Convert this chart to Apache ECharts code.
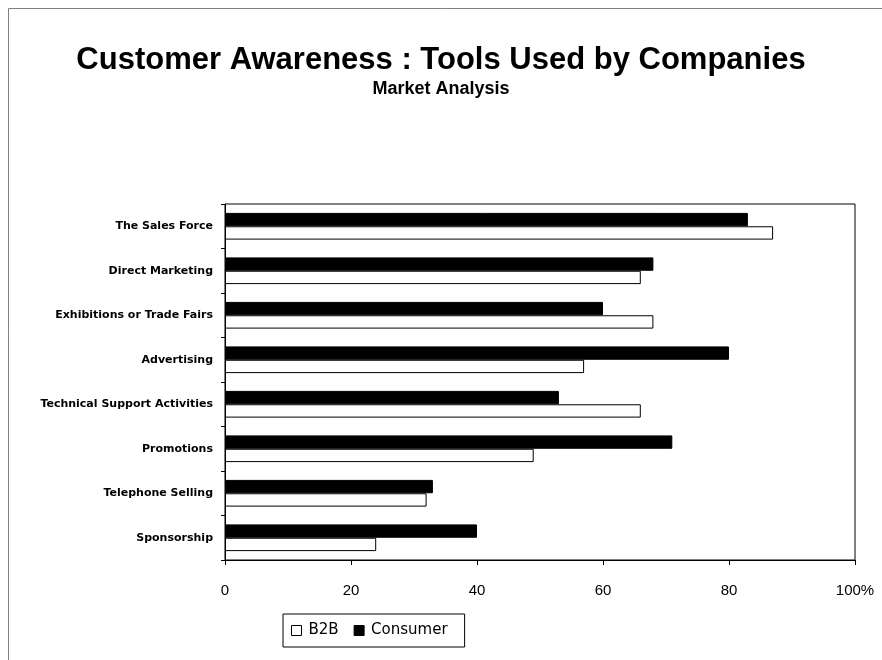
<!DOCTYPE html>
<html><head><meta charset="utf-8">
<script src="https://cdn.jsdelivr.net/npm/echarts@6/dist/echarts.min.js"></script>
<style>html,body{margin:0;padding:0;background:#fff}#c{width:882px;height:660px}</style>
</head><body><div id="c"></div>
<script>
const categories = ["The Sales Force","Direct Marketing","Exhibitions or Trade Fairs","Advertising","Technical Support Activities","Promotions","Telephone Selling","Sponsorship"];
const b2b = [87,66,68,57,66,49,32,24];
const consumer = [83,68,60,80,53,71,33,40];
const xTicks = [0,20,40,60,80,100];

const chart = echarts.init(document.getElementById('c'), null, {renderer:'canvas'});
const font = '"Liberation Sans", Arial, sans-serif';
const wide = '"DejaVu Sans", sans-serif';
chart.setOption({
  backgroundColor:'#fff',
  animation:false,
  graphic:[{type:'rect', shape:{x:8.5,y:8.5,width:900,height:700}, style:{fill:null, stroke:'#808080', lineWidth:1}, silent:true}],
  title:[{text:'Customer Awareness : Tools Used by Companies', left:'center', top:40,
    textStyle:{fontFamily:font, fontWeight:'bold', fontSize:31, color:'#000'}},
    {text:'Market Analysis', left:'center', top:75, textStyle:{fontFamily:font, fontWeight:'bold', fontSize:18, color:'#000'}}],
  legend:{data:['B2B','Consumer'], left:283, top:614, orient:'horizontal', itemWidth:10, itemHeight:10, itemGap:15,
    borderColor:'#000', borderWidth:1, padding:[9,17,9,8], icon:'rect',
    itemStyle:{borderWidth:1},
    textStyle:{fontFamily:wide, fontSize:15, color:'#000', padding:[0,0,0,2]}},
  grid:{left:225, right:27, top:204, bottom:100, show:true, borderColor:'#000', borderWidth:1, backgroundColor:'transparent'},
  xAxis:{type:'value', min:0, max:100, interval:20,
    axisLine:{show:true, lineStyle:{color:'#000'}},
    axisTick:{show:true, length:5, lineStyle:{color:'#000'}},
    splitLine:{show:false},
    axisLabel:{fontFamily:font, fontSize:15, color:'#000', margin:23,
      formatter:v=> v===100 ? '100%' : String(v)}},
  yAxis:{type:'category', data:categories, inverse:true,
    axisLine:{show:true, lineStyle:{color:'#000'}},
    axisTick:{show:true, length:4, lineStyle:{color:'#000'}},
    axisLabel:{fontFamily:wide, fontSize:11, fontWeight:'bold', color:'#000', margin:12}},
  series:[
    {name:'Consumer', type:'bar', data:consumer, barGap:'0%', barCategoryGap:'40%',
      itemStyle:{color:'#000', borderColor:'#000', borderWidth:1}},
    {name:'B2B', type:'bar', data:b2b, barGap:'0%', barCategoryGap:'40%',
      itemStyle:{color:'#fff', borderColor:'#000', borderWidth:1}}
  ]
});
</script></body></html>
